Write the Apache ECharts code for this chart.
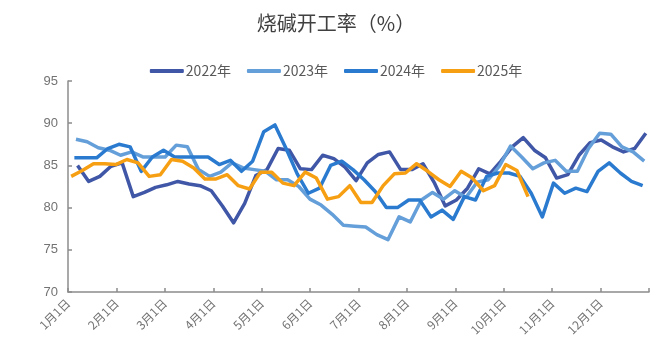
<!DOCTYPE html>
<html>
<head>
<meta charset="utf-8">
<script src="https://cdn.jsdelivr.net/npm/echarts@6/dist/echarts.min.js"></script>
<style>
html,body{margin:0;padding:0;background:#fff;}
#c{width:672px;height:364px;}
</style>
</head>
<body>
<div id="c"></div>
<script>
const chartTitle = '烧碱开工率（%）';
const seriesNames = ['2022年', '2023年', '2024年', '2025年'];
const monthLabels = ['1月1日','2月1日','3月1日','4月1日','5月1日','6月1日','7月1日','8月1日','9月1日','10月1日','11月1日','12月1日'];
const yTicks = [70, 75, 80, 85, 90, 95];

// first weekly observation of each year
const firstWeek2022 = '2022-01-07';
const firstWeek2023 = '2023-01-06';
const firstWeek2024 = '2024-01-05';
const firstWeek2025 = '2025-01-03';

const rate2022 = [85.0,83.1,83.7,84.9,85.3,81.3,81.8,82.4,82.7,83.1,82.8,82.6,82.0,80.2,78.2,80.5,83.8,84.5,87.0,86.8,84.6,84.5,86.2,85.8,84.8,83.2,85.3,86.3,86.6,84.5,84.5,85.2,83.0,80.2,80.9,82.3,84.6,84.0,85.5,87.2,88.3,86.8,85.9,83.5,83.9,86.2,87.7,88.0,87.2,86.6,87.0,88.8];
const rate2023 = [88.1,87.8,87.1,86.8,86.2,86.6,86.0,86.0,86.0,87.4,87.2,84.5,83.7,84.2,85.3,84.7,84.5,84.3,83.3,83.3,82.5,81.0,80.3,79.2,77.9,77.8,77.7,76.8,76.2,78.9,78.3,80.9,81.8,81.0,82.0,81.2,83.0,83.3,84.9,87.3,86.0,84.6,85.3,85.6,84.3,84.3,87.0,88.8,88.7,87.2,86.6,85.5];
const rate2024 = [85.9,85.9,85.9,87.0,87.5,87.2,84.3,86.0,86.8,86.0,86.0,86.0,86.0,85.1,85.6,84.3,85.5,89.0,89.8,87.0,84.0,81.7,82.3,85.0,85.5,84.5,83.3,81.9,80.0,80.0,80.9,80.9,78.9,79.7,78.6,81.3,80.9,83.7,84.1,84.1,83.7,81.7,78.9,82.9,81.7,82.3,81.9,84.3,85.3,84.1,83.1,82.6];
const rate2025 = [83.7,84.4,85.2,85.2,85.1,85.7,85.3,83.7,83.9,85.7,85.5,84.7,83.4,83.4,83.9,82.6,82.2,84.2,84.2,82.9,82.6,84.2,83.5,81.0,81.3,82.6,80.6,80.6,82.6,84.0,84.1,85.2,84.3,83.3,82.5,84.3,83.5,82.0,82.6,85.1,84.4,81.3];

const colors = ['#3F57A6', '#659FD9', '#2A7BD0', '#F79F12'];

function dayOfYear(s) {
  const d = new Date(s + 'T00:00:00Z');
  const y = d.getUTCFullYear();
  return (d - Date.UTC(y, 0, 1)) / 86400000;
}
function build(first, vals) {
  const d0 = dayOfYear(first);
  return vals.map((v, i) => [d0 + 7 * i, v]);
}

const seriesData = [
  build(firstWeek2022, rate2022),
  build(firstWeek2023, rate2023),
  build(firstWeek2024, rate2024),
  build(firstWeek2025, rate2025)
];

const monthStep = 365 / 12;
const chart = echarts.init(document.getElementById('c'), null, {renderer: 'canvas'});
chart.setOption({
  animation: false,
  backgroundColor: '#fff',
  color: colors,
  title: {
    text: chartTitle,
    left: 'center',
    top: 8,
    textStyle: {fontFamily: 'Noto Sans CJK SC', fontSize: 20, fontWeight: 'normal', color: '#404040'}
  },
  legend: {
    top: 59,
    left: 'center',
    icon: 'roundRect',
    itemWidth: 34,
    itemHeight: 4,
    itemGap: 16,
    textStyle: {fontFamily: 'Noto Sans CJK SC', fontSize: 14, color: '#595959', padding: [0,0,0,-3]},
    data: seriesNames
  },
  grid: {left: 68, right: 23, top: 81, bottom: 72, containLabel: false},
  xAxis: {
    type: 'value',
    min: 0,
    max: 365,
    interval: monthStep,
    axisLine: {show: true, lineStyle: {color: '#8c8c8c', width: 1.5}},
    axisTick: {show: true, inside: true, length: 4, lineStyle: {color: '#8c8c8c', width: 1.5}},
    splitLine: {show: false},
    axisLabel: {
      rotate: 45,
      margin: 9,
      fontFamily: 'Noto Sans CJK SC',
      fontSize: 12,
      color: '#737373',
      showMaxLabel: true,
      formatter: function (v) {
        const k = Math.round(v / monthStep);
        return monthLabels[k] || '';
      }
    }
  },
  yAxis: {
    type: 'value',
    min: yTicks[0],
    max: yTicks[yTicks.length - 1],
    interval: 5,
    axisLine: {show: true, lineStyle: {color: '#8c8c8c', width: 1.5}},
    axisTick: {show: true, inside: true, length: 4, lineStyle: {color: '#8c8c8c', width: 1.5}},
    splitLine: {show: false},
    axisLabel: {fontFamily: 'Liberation Sans Narrow, Liberation Sans', fontSize: 13, color: '#737373', margin: 10}
  },
  series: seriesNames.map((n, k) => ({
    name: n,
    type: 'line',
    data: seriesData[k],
    showSymbol: false,
    symbol: 'none',
    lineStyle: {width: 3.5, color: colors[k], join: 'round'},
    z: k === 3 ? 5 : 2 + k
  }))
});
</script>
</body>
</html>
